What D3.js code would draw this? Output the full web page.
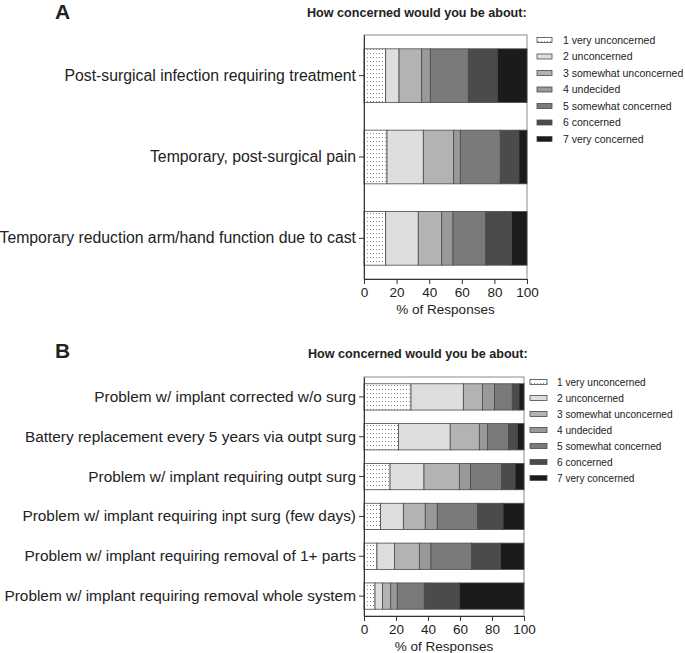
<!DOCTYPE html>
<html lang="en">
    <head>
        <meta charset="utf-8">
        <title>How concerned would you be about</title>
        <script type="text/javascript" src="https://d3js.org/d3.v7.min.js"></script>
        <style>
            body { margin: 0; background: #fff; }
            text { font-family: "Liberation Sans", Arial, sans-serif; fill: #222; }
        </style>
    </head>
    <body>
		<script type="text/javascript">

            var w = 685;
			var h = 653;

            // response levels (legend)
            var levels = ["1 very unconcerned", "2 unconcerned", "3 somewhat unconcerned", "4 undecided",
                          "5 somewhat concerned", "6 concerned", "7 very concerned"];
            var levelFills = ["url(#dots)", "#dedede", "#b3b3b3", "#999999", "#7a7a7a", "#4b4b4b", "#1b1b1b"];

            // panel A
            var catsA = ["Post-surgical infection requiring treatment",
                         "Temporary, post-surgical pain",
                         "Temporary reduction arm/hand function due to cast"];
            var valsA = [
                [13.3, 8.2, 13.9, 5.3, 23.3, 17.8, 18.2],
                [14.1, 22.3, 18.6, 4.1, 24.5, 11.5, 4.9],
                [13.3, 20.0, 14.4, 6.9, 20.1, 15.9, 9.4]
            ];

            // panel B
            var catsB = ["Problem w/ implant corrected w/o surg",
                         "Battery replacement every 5 years via outpt surg",
                         "Problem w/ implant requiring outpt surg",
                         "Problem w/ implant requiring inpt surg (few days)",
                         "Problem w/ implant requiring removal of 1+ parts",
                         "Problem w/ implant requiring removal whole system"];
            var valsB = [
                [29.4, 32.7, 11.9, 7.5, 11.2, 4.2, 3.1],
                [21.5, 32.4, 18.2, 5.0, 13.3, 5.4, 4.2],
                [16.3, 21.2, 22.1, 6.9, 19.5, 8.4, 5.6],
                [10.4, 14.2, 13.7, 7.5, 25.2, 15.9, 13.1],
                [8.1, 10.9, 15.6, 7.3, 25.4, 18.1, 14.6],
                [6.9, 4.6, 5.2, 4.1, 16.9, 21.9, 40.4]
            ];

            var xTicks = [0, 20, 40, 60, 80, 100];

            var svg = d3.select("body")
                        .append("svg")
                        .attr("width", w)
                        .attr("height", h);

            // dotted fill for level 1
            var pat = svg.append("defs").append("pattern")
                        .attr("id", "dots")
                        .attr("patternUnits", "userSpaceOnUse")
                        .attr("width", 3)
                        .attr("height", 4);
            pat.append("rect").attr("width", 3).attr("height", 4).attr("fill", "#fff");
            pat.append("rect").attr("x", 1).attr("y", 1).attr("width", 1).attr("height", 1).attr("fill", "#8a8a8a");

            function drawPanel(cats, vals, o) {
                var g = svg.append("g");

                var xScale = d3.scaleLinear()
                               .domain([0, 100])
                               .range([o.x0, o.x1]);

                var yScale = d3.scaleBand()
                               .domain(cats)
                               .range([o.y0, o.y1])
                               .paddingInner(0.34)
                               .paddingOuter(0.17);

                var rows = cats.map(function(c, i) {
                    var r = { cat: c };
                    vals[i].forEach(function(v, j) { r[j] = v; });
                    return r;
                });
                var stack = d3.stack().keys(d3.range(levels.length))(rows);

                // frame
                g.append("rect")
                    .attr("x", o.x0)
                    .attr("y", o.y0)
                    .attr("width", o.x1 - o.x0)
                    .attr("height", o.y1 - o.y0)
                    .attr("fill", "none")
                    .attr("stroke", "#8c8c8c")
                    .attr("stroke-width", 1);

                g.selectAll("g.layer")
                    .data(stack)
                    .enter()
                    .append("g")
                    .attr("class", "layer")
                    .attr("fill", function(d) { return levelFills[d.key]; })
                    .selectAll("rect")
                    .data(function(d) { return d; })
                    .enter()
                    .append("rect")
                    .attr("x", function(d) { return xScale(d[0]); })
                    .attr("width", function(d) { return xScale(d[1]) - xScale(d[0]); })
                    .attr("y", function(d) { return yScale(d.data.cat); })
                    .attr("height", yScale.bandwidth())
                    .attr("stroke", "#4a4a4a")
                    .attr("stroke-width", 0.8);

                var xAxis = d3.axisBottom(xScale)
                              .tickValues(xTicks)
                              .tickSize(5)
                              .tickPadding(3)
                              .tickSizeOuter(0);

                var yAxis = d3.axisLeft(yScale)
                              .tickSize(5)
                              .tickPadding(3)
                              .tickSizeOuter(0);

                var xa = g.append("g")
                    .attr("transform", "translate(0," + o.y1 + ")")
                    .call(xAxis);
                xa.selectAll("text").style("font-size", "13.5px").attr("fill", "#333");

                var ya = g.append("g")
                    .attr("transform", "translate(" + o.x0 + ",0)")
                    .call(yAxis);
                ya.selectAll("text").style("font-size", o.catFont).attr("fill", "#222");

                g.selectAll(".domain, .tick line").attr("stroke", "#333");

                g.append("text")
                    .attr("x", (o.x0 + o.x1) / 2)
                    .attr("y", o.y1 + 35)
                    .attr("text-anchor", "middle")
                    .style("font-size", "13.5px")
                    .text("% of Responses");

                g.append("text")
                    .attr("x", o.letterX)
                    .attr("y", o.letterY)
                    .style("font-size", "21px")
                    .style("font-weight", "bold")
                    .text(o.letter);

                g.append("text")
                    .attr("x", o.titleX)
                    .attr("y", o.titleY)
                    .style("font-size", "12.6px")
                    .style("font-weight", "bold")
                    .text("How concerned would you be about:");

                // legend
                var leg = g.selectAll("g.leg")
                    .data(levels)
                    .enter()
                    .append("g")
                    .attr("class", "leg")
                    .attr("transform", function(d, i) { return "translate(" + o.legX + "," + (o.legY + i * o.legStep) + ")"; });

                leg.append("rect")
                    .attr("x", 0)
                    .attr("y", -2.5)
                    .attr("width", o.swW)
                    .attr("height", 5)
                    .attr("fill", function(d, i) { return levelFills[i]; })
                    .attr("stroke", "#4a4a4a")
                    .attr("stroke-width", 0.8);

                leg.append("text")
                    .attr("x", o.legTextDx)
                    .attr("y", 0)
                    .attr("dy", "0.35em")
                    .style("font-size", o.legFont)
                    .attr("fill", "#333")
                    .text(function(d) { return d; });
            }

            drawPanel(catsA, valsA, {
                x0: 364, x1: 527, y0: 35, y1: 279, catFont: "15.8px",
                letter: "A", letterX: 55, letterY: 19,
                titleX: 307, titleY: 17,
                legX: 537, legY: 40, legStep: 16.5, swW: 15, legTextDx: 26, legFont: "10.5px"
            });

            drawPanel(catsB, valsB, {
                x0: 364, x1: 524, y0: 377, y1: 616, catFont: "15.4px",
                letter: "B", letterX: 55, letterY: 358,
                titleX: 308, titleY: 358,
                legX: 530, legY: 382, legStep: 16, swW: 17, legTextDx: 27, legFont: "10.1px"
            });

        </script>
    </body>
</html>
